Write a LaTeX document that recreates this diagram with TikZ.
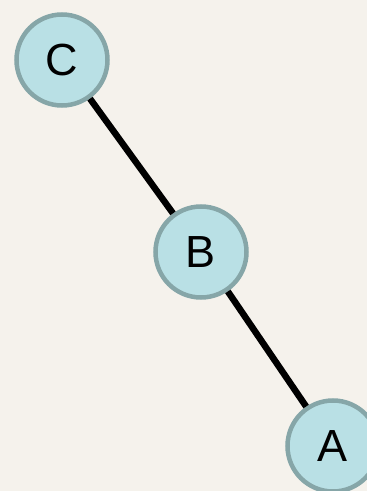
\documentclass[tikz,border=0pt]{standalone}
\usepackage{fontspec}
\setmainfont{Liberation Sans}
\definecolor{bgc}{HTML}{F5F2EC}
\definecolor{nodefill}{HTML}{B9E0E5}
\definecolor{nodeborder}{HTML}{86A6A8}
\tikzset{
  treenode/.style={circle, draw=nodeborder, fill=nodefill, line width=4.5pt, minimum size=91pt, inner sep=0pt, font=\fontsize{45}{45}\selectfont},
  treeedge/.style={line width=6.5pt, black}
}
\begin{document}
\begin{tikzpicture}[x=1pt,y=1pt]
\fill[bgc] (0,0) rectangle (367,491);
\useasboundingbox (0,0) rectangle (367,491);
\node[treenode] (C) at (62,431) {C};
\node[treenode] (B) at (201,239) {B};
\node[treenode] (A) at (333,45) {A};
\draw[treeedge] (C) -- (B);
\draw[treeedge] (B) -- (A);
\end{tikzpicture}
\end{document}
